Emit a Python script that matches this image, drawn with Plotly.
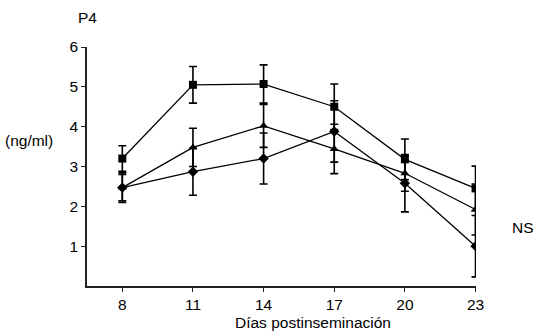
import plotly.graph_objects as go

days = [8, 11, 14, 17, 20, 23]
tick_labels = ["8", "11", "14", "17", "20", "23"]

sq_vals = [3.20, 5.05, 5.07, 4.50, 3.18, 2.45]
sq_err = [0.32, 0.46, 0.48, 0.57, 0.51, 0.56]

tri_vals = [2.47, 3.48, 4.02, 3.44, 2.83, 1.92]
tri_err = [0.37, 0.48, 0.54, 0.62, 0.45, 0.64]

dia_vals = [2.47, 2.87, 3.20, 3.88, 2.58, 1.00]
dia_err = [0.33, 0.59, 0.64, 0.77, 0.72, 0.77]

fig = go.Figure()

def add(vals, err, symbol, size):
    fig.add_trace(go.Scatter(
        x=days, y=vals, mode="lines+markers",
        line=dict(color="black", width=1.3),
        marker=dict(symbol=symbol, size=size, color="black"),
        error_y=dict(type="data", array=err, visible=True,
                     color="black", thickness=1.6, width=4),
        showlegend=False,
    ))

add(dia_vals, dia_err, "diamond", 8)
add(tri_vals, tri_err, "triangle-up", 8)
add(sq_vals, sq_err, "square", 8)

font = dict(family="Liberation Sans, Arial, sans-serif", size=15.5, color="black")

fig.update_layout(
    width=540, height=333,
    margin=dict(l=87, r=64, t=47, b=47),
    paper_bgcolor="white", plot_bgcolor="white",
    font=font,
    xaxis=dict(
        range=[6.5, 23.02], tickmode="array", tickvals=days, ticktext=tick_labels,
        showgrid=False, zeroline=False, showline=True, linecolor="#222",
        linewidth=1.5, ticks="outside", ticklen=4, tickcolor="#222",
        tickfont=font, automargin=False,
    ),
    yaxis=dict(
        range=[0, 6], tickvals=[1, 2, 3, 4, 5, 6],
        showgrid=False, zeroline=False, showline=True, linecolor="#222",
        linewidth=1.5, ticks="outside", ticklen=4, tickcolor="#222",
        tickfont=font, automargin=False,
    ),
    annotations=[
        dict(text="P4", xref="paper", yref="paper", x=0.0, y=1.125,
             showarrow=False, font=font, xanchor="center", yanchor="middle"),
        dict(text="(ng/ml)", xref="paper", yref="paper", x=-0.149, y=0.607,
             showarrow=False, font=font, xanchor="center", yanchor="middle"),
        dict(text="NS", xref="paper", yref="paper", x=1.121, y=0.243,
             showarrow=False, font=font, xanchor="center", yanchor="middle"),
        dict(text="Días postinseminación", xref="paper", yref="paper", x=0.58, y=-0.152,
             showarrow=False, font=font, xanchor="center", yanchor="middle"),
    ],
)

fig.write_html("out.html")
